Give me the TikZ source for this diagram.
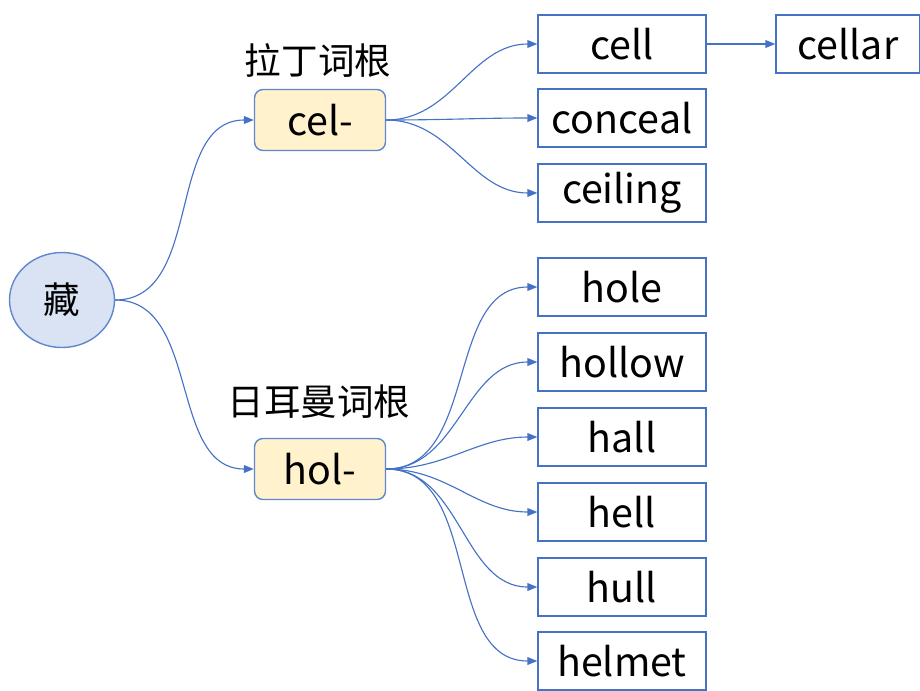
\documentclass[tikz,border=0pt]{standalone}
\usepackage{tikz}
\usetikzlibrary{shapes,arrows.meta,positioning}
\usepackage{xcolor}
\usepackage{fontspec}
\setmainfont{Noto Sans CJK SC}
\definecolor{linkblue}{HTML}{4472C4}
\definecolor{rootfill}{HTML}{DAE3F3}
\definecolor{stemfill}{HTML}{FFF2CC}

\begin{document}
\begin{tikzpicture}[
  word/.style={rectangle, draw=linkblue, line width=1pt, minimum width=4.2cm, minimum height=1.45cm, align=center, font=\fontsize{28}{30}\selectfont},
  stem/.style={rectangle, draw=linkblue!85, fill=stemfill, line width=1pt, minimum width=3.275cm, minimum height=1.525cm, rounded corners=6pt, font=\fontsize{28}{30}\selectfont},
  root/.style={ellipse, draw=linkblue!85, fill=rootfill, line width=1pt, minimum width=2.625cm, minimum height=2.375cm, font=\fontsize{26}{30}\selectfont},
  note/.style={font=\fontsize{26}{30}\selectfont},
  link/.style={draw=linkblue, line width=0.8pt, -{Triangle[length=7pt,width=5.5pt]}}
]
  \useasboundingbox (0,0) rectangle (23,-17.25);
  \node[root] (cang) at (1.55,-7.5) {藏};
  \node[note] (latin) at (7.95,-1.5) {拉丁词根};
  \node[stem] (cel) at (8.0,-3.0) {cel-};
  \node[note] (german) at (7.975,-10.05) {日耳曼词根};
  \node[stem] (hol) at (8.0,-11.725) {hol-};
  \node[word] (cell) at (15.55,-1.1) {cell};
  \node[word, minimum width=3.6cm] (cellar) at (21.2,-1.1) {cellar};
  \node[word] (conceal) at (15.55,-2.95) {conceal};
  \node[word] (ceiling) at (15.55,-4.825) {ceiling};
  \node[word] (hole) at (15.55,-7.175) {hole};
  \node[word] (hollow) at (15.55,-9.05) {hollow};
  \node[word] (hall) at (15.55,-10.925) {hall};
  \node[word] (hell) at (15.55,-12.8) {hell};
  \node[word] (hull) at (15.55,-14.675) {hull};
  \node[word] (helmet) at (15.55,-16.525) {helmet};

  \draw[link] (cang.east) to[out=0,in=180] (cel.west);
  \draw[link] (cang.east) to[out=0,in=180] (hol.west);
  \foreach \w in {cell,conceal,ceiling}
    \draw[link] (cel.east) to[out=0,in=180] (\w.west);
  \foreach \w in {hole,hollow,hall,hell,hull,helmet}
    \draw[link] (hol.east) to[out=0,in=180] (\w.west);
  \draw[link] (cell) -- (cellar);
\end{tikzpicture}
\end{document}
